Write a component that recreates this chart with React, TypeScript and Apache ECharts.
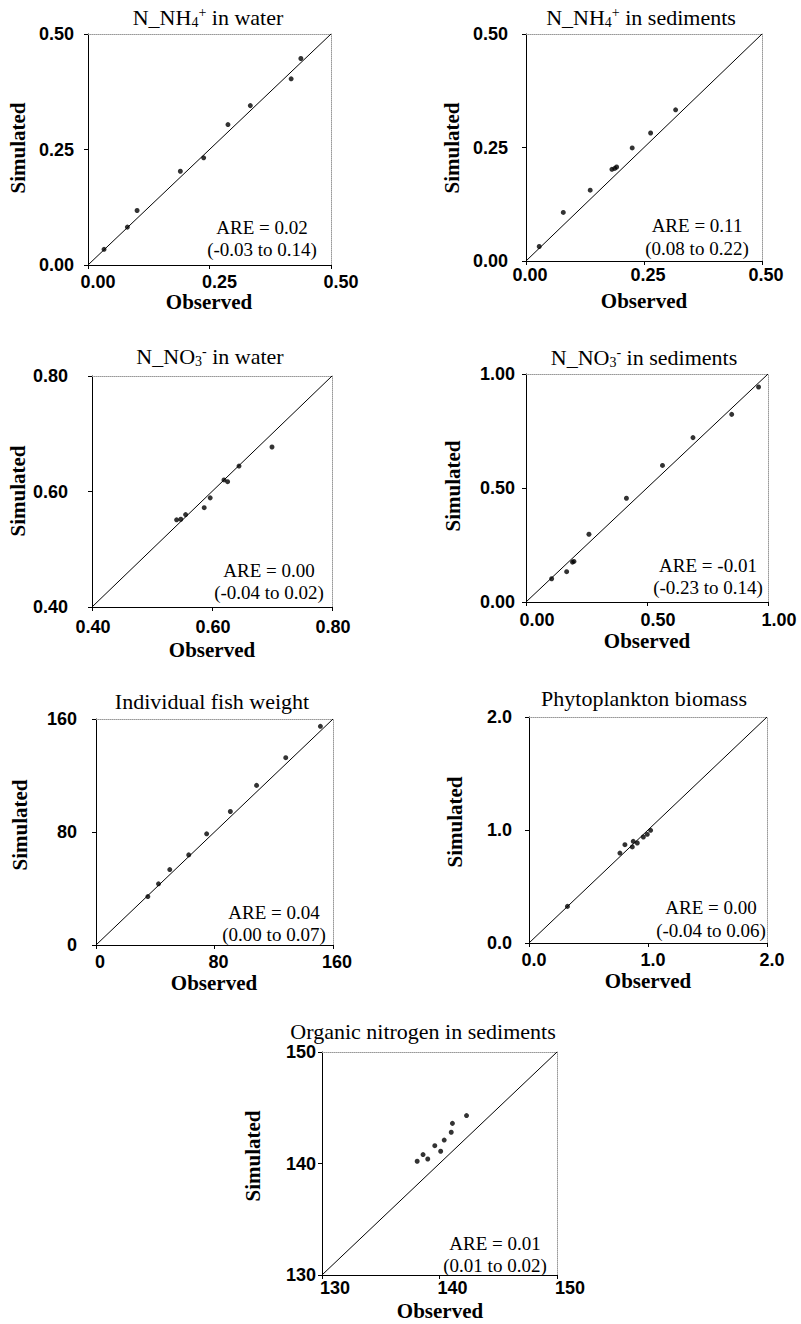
import React, { useEffect, useRef } from "react";
import * as echarts from "echarts";

// ---- data ----
const titles = [
  "{a|N_NH}{b|4}{c|+}{a| in water}",
  "{a|N_NH}{b|4}{c|+}{a| in sediments}",
  "{a|N_NO}{b|3}{c|-}{a| in water}",
  "{a|N_NO}{b|3}{c|-}{a| in sediments}",
  "{a|Individual fish weight}",
  "{a|Phytoplankton biomass}",
  "{a|Organic nitrogen in sediments}",
];
const areLine1 = ["ARE = 0.02", "ARE = 0.11", "ARE = 0.00", "ARE = -0.01", "ARE = 0.04", "ARE = 0.00", "ARE = 0.01"];
const areLine2 = ["(-0.03 to 0.14)", "(0.08 to 0.22)", "(-0.04 to 0.02)", "(-0.23 to 0.14)", "(0.00 to 0.07)", "(-0.04 to 0.06)", "(0.01 to 0.02)"];

const axisMin = [0, 0, 0.4, 0, 0, 0, 130];
const axisMax = [0.5, 0.5, 0.8, 1, 160, 2, 150];
const axisStep = [0.25, 0.25, 0.2, 0.5, 80, 1, 10];
const labelDecimals = [2, 2, 2, 2, 0, 1, 0];

const obsNH4Water = [0.033, 0.081, 0.101, 0.19, 0.238, 0.288, 0.334, 0.418, 0.438];
const simNH4Water = [0.034, 0.082, 0.118, 0.203, 0.232, 0.304, 0.345, 0.403, 0.447];
const obsNH4Sed = [0.028, 0.079, 0.136, 0.182, 0.188, 0.192, 0.225, 0.264, 0.317];
const simNH4Sed = [0.032, 0.107, 0.156, 0.202, 0.204, 0.207, 0.249, 0.282, 0.333];
const obsNO3Water = [0.541, 0.548, 0.556, 0.587, 0.597, 0.62, 0.626, 0.645, 0.7];
const simNO3Water = [0.551, 0.552, 0.56, 0.572, 0.589, 0.62, 0.617, 0.644, 0.677];
const obsNO3Sed = [0.106, 0.168, 0.192, 0.198, 0.26, 0.415, 0.564, 0.69, 0.85, 0.961];
const simNO3Sed = [0.102, 0.133, 0.175, 0.178, 0.297, 0.455, 0.599, 0.721, 0.823, 0.943];
const obsFish = [35.0, 42.2, 49.8, 62.6, 74.7, 90.7, 108.4, 128.1, 151.5];
const simFish = [34.3, 43.3, 53.4, 63.8, 78.7, 94.5, 113.0, 132.6, 154.8];
const obsPhyto = [0.323, 0.764, 0.806, 0.868, 0.876, 0.91, 0.961, 0.994, 1.022];
const simPhyto = [0.324, 0.796, 0.87, 0.85, 0.9, 0.885, 0.938, 0.962, 0.997];
const obsOrgN = [138.1, 138.6, 139.0, 139.6, 140.1, 140.4, 141.0, 141.1, 142.3];
const simOrgN = [140.2, 140.8, 140.4, 141.6, 141.1, 142.1, 142.8, 143.6, 144.3];

const observed = [obsNH4Water, obsNH4Sed, obsNO3Water, obsNO3Sed, obsFish, obsPhyto, obsOrgN];
const simulated = [simNH4Water, simNH4Sed, simNO3Water, simNO3Sed, simFish, simPhyto, simOrgN];

// ---- layout ----
const layout = [
  { left: 88, top: 34, width: 243, height: 231, title: [208, 17], yName: [18, 148], xName: [209, 302], are: [262, 227, 249], yM: 14, xM: 8, xShift: 10 },
  { left: 526, top: 34, width: 236, height: 227, title: [641, 17], yName: [452, 148], xName: [644, 301], are: [697, 225, 248], yM: 18, xM: 5, xShift: 4 },
  { left: 92, top: 376, width: 240, height: 231, title: [210, 356], yName: [18, 491], xName: [212, 650], are: [269, 570, 592], yM: 24, xM: 11, xShift: 1 },
  { left: 526, top: 374, width: 242, height: 228, title: [644, 357], yName: [453, 486], xName: [647, 641], are: [708, 565, 587], yM: 11, xM: 9, xShift: 11 },
  { left: 96, top: 719, width: 237, height: 226, title: [212, 701], yName: [20, 825], xName: [214, 983], are: [274, 912, 934], yM: 19, xM: 8, xShift: 4 },
  { left: 529, top: 717, width: 238, height: 226, title: [644, 698], yName: [455, 822], xName: [648, 981], are: [711, 907, 930], yM: 17, xM: 8, xShift: 5 },
  { left: 322, top: 1052, width: 235, height: 223, title: [423, 1031], yName: [253, 1156], xName: [440, 1311], are: [495, 1243, 1265], yM: 6, xM: 4, xShift: 13 },
];

const SERIF = "'Liberation Serif', 'Times New Roman', serif";
const SANS = "'Liberation Sans', Arial, sans-serif";

function buildOption() {
  const grid: any[] = [];
  const xAxis: any[] = [];
  const yAxis: any[] = [];
  const series: any[] = [];
  const title: any[] = [];
  const graphic: any[] = [];

  layout.forEach((L, i) => {
    grid.push({ left: L.left, top: L.top, width: L.width, height: L.height, containLabel: false });
    const dec = labelDecimals[i];
    const base = {
      gridIndex: i,
      type: "value",
      min: axisMin[i],
      max: axisMax[i],
      interval: axisStep[i],
      splitLine: { show: false },
    };
    const tickLabel = (margin: number) => ({
      margin,
      fontFamily: SANS,
      fontWeight: "bold",
      fontSize: 18,
      color: "#000",
      formatter: (v: number) => v.toFixed(dec),
    });
    xAxis.push({
      ...base,
      position: "bottom",
      axisLine: { show: true, onZero: false, lineStyle: { color: "#000", width: 1 } },
      axisTick: { show: true, length: 4, lineStyle: { color: "#000" } },
      axisLabel: { ...tickLabel(L.xM), padding: [0, 0, 0, 2 * L.xShift] },
    });
    xAxis.push({
      ...base,
      position: "top",
      axisLine: { show: true, onZero: false, lineStyle: { color: "#999", width: 1, type: "dotted" } },
      axisTick: { show: false },
      axisLabel: { show: false },
    });
    yAxis.push({
      ...base,
      position: "left",
      axisLine: { show: true, onZero: false, lineStyle: { color: "#000", width: 1 } },
      axisTick: { show: true, length: 4, lineStyle: { color: "#000" } },
      axisLabel: tickLabel(L.yM),
    });
    yAxis.push({
      ...base,
      position: "right",
      axisLine: { show: true, onZero: false, lineStyle: { color: "#999", width: 1, type: "dotted" } },
      axisTick: { show: false },
      axisLabel: { show: false },
    });

    series.push({
      type: "line",
      xAxisIndex: 2 * i,
      yAxisIndex: 2 * i,
      data: [
        [axisMin[i], axisMin[i]],
        [axisMax[i], axisMax[i]],
      ],
      showSymbol: false,
      symbol: "none",
      lineStyle: { color: "#000", width: 1 },
      silent: true,
    });
    series.push({
      type: "scatter",
      xAxisIndex: 2 * i,
      yAxisIndex: 2 * i,
      data: observed[i].map((o, k) => [o, simulated[i][k]]),
      symbol: "circle",
      symbolSize: 5,
      itemStyle: { color: "#000" },
    });

    title.push({
      text: titles[i],
      left: L.title[0],
      top: L.title[1] - 12,
      padding: 0,
      textAlign: "center",
      textStyle: {
        fontWeight: "normal",
        rich: {
          a: { fontFamily: SERIF, fontWeight: "normal", fontSize: 22, lineHeight: 24, color: "#000" },
          b: { fontFamily: SERIF, fontWeight: "normal", fontSize: 14, lineHeight: 13, verticalAlign: "bottom", color: "#000" },
          c: { fontFamily: SERIF, fontWeight: "normal", fontSize: 14, lineHeight: 13, verticalAlign: "top", color: "#000" },
        },
      },
    });

    graphic.push({
      type: "text",
      x: L.yName[0],
      y: L.yName[1],
      rotation: Math.PI / 2,
      style: {
        text: "Simulated",
        fontFamily: SERIF,
        fontWeight: "bold",
        fontSize: 21,
        fill: "#000",
        align: "center",
        verticalAlign: "middle",
      },
    });
    graphic.push({
      type: "text",
      x: L.xName[0],
      y: L.xName[1],
      style: {
        text: "Observed",
        fontFamily: SERIF,
        fontWeight: "bold",
        fontSize: 21,
        fill: "#000",
        align: "center",
        verticalAlign: "middle",
      },
    });
    graphic.push({
      type: "text",
      x: L.are[0],
      y: L.are[1],
      style: {
        text: areLine1[i],
        fontFamily: SERIF,
        fontSize: 19,
        fill: "#000",
        align: "center",
        verticalAlign: "middle",
      },
    });
    graphic.push({
      type: "text",
      x: L.are[0],
      y: L.are[2],
      style: {
        text: areLine2[i],
        fontFamily: SERIF,
        fontSize: 19,
        fill: "#000",
        align: "center",
        verticalAlign: "middle",
      },
    });
  });

  return {
    animation: false,
    backgroundColor: "#fff",
    title,
    grid,
    xAxis,
    yAxis,
    series,
    graphic,
  };
}

export default function App() {
  const ref = useRef<HTMLDivElement>(null);
  useEffect(() => {
    if (!ref.current) return;
    const chart = echarts.init(ref.current, undefined, { renderer: "svg" });
    chart.setOption(buildOption() as any);
    return () => chart.dispose();
  }, []);
  return (
    <div
      ref={ref}
      style={{ position: "absolute", left: 0, top: 0, width: 801, height: 1324, background: "#fff" }}
    />
  );
}
